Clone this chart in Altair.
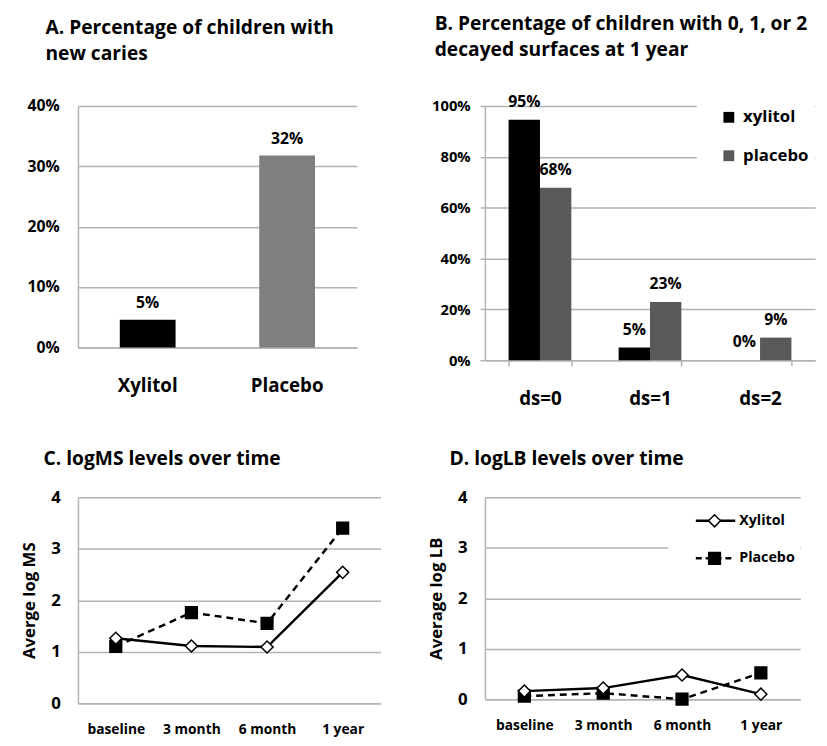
import altair as alt
import pandas as pd

FONT = "Open Sans"
GRID = "#b3b3b3"

# ---- Panel A data ----
a_groups = ["Xylitol", "Placebo"]
a_values = [4.6, 31.8]
a_labels = ["5%", "32%"]
a_colors = ["#000000", "#7f7f7f"]
a_ticks = [0, 10, 20, 30, 40]

# ---- Panel B data ----
b_categories = ["ds=0", "ds=1", "ds=2"]
b_series = ["xylitol", "placebo"]
b_xylitol = [94.6, 5.0, 0.0]
b_placebo = [67.8, 22.9, 8.9]
b_xylitol_labels = ["95%", "5%", "0%"]
b_placebo_labels = ["68%", "23%", "9%"]
b_colors = ["#000000", "#595959"]
b_ticks = [0, 20, 40, 60, 80, 100]

# ---- Panels C and D data ----
times = ["baseline", "3 month", "6 month", "1 year"]
line_series = ["Xylitol", "Placebo"]
ms_xylitol = [1.26, 1.11, 1.09, 2.54]
ms_placebo = [1.10, 1.76, 1.55, 3.40]
lb_xylitol = [0.16, 0.22, 0.48, 0.10]
lb_placebo = [0.06, 0.12, 0.00, 0.52]
log_ticks = [0, 1, 2, 3, 4]

# ================= Panel A =================
df_a = pd.DataFrame({"group": a_groups, "value": a_values, "label": a_labels})
base_a = alt.Chart(df_a).encode(
    x=alt.X("group:N", sort=a_groups,
            scale=alt.Scale(paddingInner=0.6, paddingOuter=0.3),
            axis=alt.Axis(title=None, labelAngle=0, domainColor=GRID, domainWidth=1.5,
                          ticks=False, labelFontSize=19, labelPadding=30)),
    y=alt.Y("value:Q", scale=alt.Scale(domain=[0, 40]),
            axis=alt.Axis(title=None, values=a_ticks, labelExpr="datum.value + '%'",
                          grid=True, gridColor=GRID, gridWidth=1.5, domainColor=GRID,
                          domainWidth=1.5, ticks=False, labelPadding=19, labelFontSize=16)),
)
bars_a = base_a.mark_bar().encode(
    color=alt.Color("group:N", scale=alt.Scale(domain=a_groups, range=a_colors), legend=None)
)
text_a = base_a.mark_text(dy=-17, baseline="middle", fontSize=16, fontWeight="bold",
                          font=FONT, color="black").encode(text="label:N")
panel_a = alt.layer(bars_a, text_a).properties(
    width=283, height=245,
    title=alt.TitleParams(["A. Percentage of children with", "new caries"], anchor="start",
                          frame="group", dx=-33, offset=34, lineHeight=27),
)

# ================= Panel B =================
rows_b = []
for i, c in enumerate(b_categories):
    rows_b.append({"cat": c, "series": "xylitol", "value": b_xylitol[i], "label": b_xylitol_labels[i]})
for i, c in enumerate(b_categories):
    rows_b.append({"cat": c, "series": "placebo", "value": b_placebo[i], "label": b_placebo_labels[i]})
df_b = pd.DataFrame(rows_b)

xb = alt.X("cat:N", sort=b_categories,
           scale=alt.Scale(paddingInner=0.43, paddingOuter=0.215),
           axis=alt.Axis(title=None, labelAngle=0, domainColor=GRID, domainWidth=1.5,
                         tickColor=GRID, tickWidth=1.5, tickSize=6, tickBand="extent",
                         labelFontSize=19, labelPadding=24))
yb = alt.Y("value:Q", scale=alt.Scale(domain=[0, 100]),
           axis=alt.Axis(title=None, values=b_ticks, labelExpr="datum.value + '%'",
                         grid=True, gridColor=GRID, gridWidth=1.5, domainColor=GRID,
                         domainWidth=1.5, tickColor=GRID, tickWidth=1.5, tickSize=5,
                         labelPadding=10, labelFontSize=15))
xob = alt.XOffset("series:N", sort=b_series, scale=alt.Scale(paddingInner=0, paddingOuter=0))

cover_b = alt.Chart(pd.DataFrame({"k": [0]})).mark_rect(color="white").encode(
    x=alt.value(215), x2=alt.value(335), y=alt.value(-4), y2=alt.value(75)
)
bars_b = alt.Chart(df_b).mark_bar().encode(
    x=xb, xOffset=xob, y=yb,
    color=alt.Color("series:N", sort=b_series,
                    scale=alt.Scale(domain=b_series, range=b_colors),
                    legend=alt.Legend(orient="none", legendX=239, legendY=3, title=None,
                                      symbolType="square", symbolSize=121,
                                      symbolStrokeWidth=0, labelFontSize=17,
                                      labelFont=FONT, labelFontWeight="bold",
                                      labelColor="black", rowPadding=21, labelOffset=6,
                                      padding=0)),
)
text_b = alt.Chart(df_b).mark_text(dy=-18, baseline="middle", fontSize=16, fontWeight="bold",
                                   font=FONT, color="black").encode(
    x=xb, xOffset=xob, y=yb, text="label:N"
)
panel_b = alt.layer(cover_b, bars_b, text_b).properties(
    width=335, height=258,
    title=alt.TitleParams(["B. Percentage of children with 0, 1, or 2",
                           "decayed surfaces at 1 year"], anchor="start",
                          frame="group", dx=-51, offset=34, lineHeight=27, fontSize=19.5),
)


# ================= Panels C / D =================
def line_panel(xyl, pla, ytitle, title, dx, width, height, legend=False):
    rows = []
    for i, t in enumerate(times):
        rows.append({"time": t, "series": line_series[0], "value": xyl[i]})
    for i, t in enumerate(times):
        rows.append({"time": t, "series": line_series[1], "value": pla[i]})
    df = pd.DataFrame(rows)
    x = alt.X("time:N", sort=times, scale=alt.Scale(type="point", padding=0.5),
              axis=alt.Axis(title=None, labelAngle=0, domainColor=GRID, domainWidth=1.5,
                            ticks=False, labelFontSize=14, labelPadding=20))
    y = alt.Y("value:Q", scale=alt.Scale(domain=[0, 4]),
              axis=alt.Axis(title=ytitle, values=log_ticks, grid=True, gridColor=GRID,
                            gridWidth=1.5, domainColor=GRID, domainWidth=1.5, ticks=False,
                            labelPadding=18, labelFontSize=17, titleFontSize=17,
                            titlePadding=12))
    base = alt.Chart(df).encode(x=x, y=y)
    line_p = base.transform_filter(alt.datum.series == line_series[1]).mark_line(
        color="black", strokeWidth=2.5, strokeDash=[7, 5])
    line_x = base.transform_filter(alt.datum.series == line_series[0]).mark_line(
        color="black", strokeWidth=2.5)
    pts_p = base.transform_filter(alt.datum.series == line_series[1]).mark_point(
        shape="square", size=130, filled=True, fill="black", stroke="black", opacity=1)
    pts_x = base.transform_filter(alt.datum.series == line_series[0]).mark_point(
        shape="diamond", size=150, filled=True, fill="white", stroke="black",
        strokeWidth=1.5, opacity=1)
    layers = []
    if legend:
        one = pd.DataFrame({"k": [0]})
        cover = alt.Chart(one).mark_rect(color="white").encode(
            x=alt.value(186), x2=alt.value(width), y=alt.value(8), y2=alt.value(85))
        layers.append(cover)
    layers += [line_p, line_x, pts_p, pts_x]
    if legend:
        lx = pd.DataFrame({"series": [line_series[0]]})
        lp = pd.DataFrame({"series": [line_series[1]]})
        layers += [
            alt.Chart(lx).mark_rule(color="black", strokeWidth=2.5).encode(
                x=alt.value(214), x2=alt.value(254), y=alt.value(24)),
            alt.Chart(lx).mark_point(shape="diamond", size=150, filled=True, fill="white",
                                     stroke="black", strokeWidth=1.5, opacity=1).encode(
                x=alt.value(233), y=alt.value(24)),
            alt.Chart(lx).mark_text(align="left", baseline="middle", fontSize=14.5,
                                    fontWeight="bold", font=FONT, color="black").encode(
                x=alt.value(258), y=alt.value(24), text="series:N"),
            alt.Chart(lp).mark_rule(color="black", strokeWidth=2.5, strokeDash=[6, 4]).encode(
                x=alt.value(214), x2=alt.value(254), y=alt.value(62)),
            alt.Chart(lp).mark_point(shape="square", size=130, filled=True, fill="black",
                                     stroke="black", opacity=1).encode(
                x=alt.value(233), y=alt.value(62)),
            alt.Chart(lp).mark_text(align="left", baseline="middle", fontSize=14.5,
                                    fontWeight="bold", font=FONT, color="black").encode(
                x=alt.value(258), y=alt.value(62), text="series:N"),
        ]
    return alt.layer(*layers).properties(
        width=width, height=height,
        title=alt.TitleParams(title, anchor="start", frame="group", dx=dx, offset=19),
    )


panel_c = line_panel(ms_xylitol, ms_placebo, "Averge log MS",
                     "C. logMS levels over time", -35, 307, 209)
panel_d = line_panel(lb_xylitol, lb_placebo, "Average log LB",
                     "D. logLB levels over time", -36, 320, 205, legend=True)

chart = alt.concat(
    panel_a, panel_b, panel_c, panel_d,
    columns=2, spacing={"row": 139, "column": 106}, bounds="flush", align="each",
).resolve_scale(
    color="independent"
).resolve_legend(
    color="independent"
).properties(
    padding={"left": 13, "top": 0, "right": 4, "bottom": 0}
).configure(
    font=FONT
).configure_view(
    stroke=None
).configure_axis(
    labelFont=FONT, titleFont=FONT, labelFontWeight="bold", titleFontWeight="bold",
    labelColor="black", titleColor="black"
).configure_title(
    font=FONT, fontWeight="bold", fontSize=19.5, color="black", anchor="start"
)

chart.save("out.html", embed_options={"renderer": "svg", "actions": False})
